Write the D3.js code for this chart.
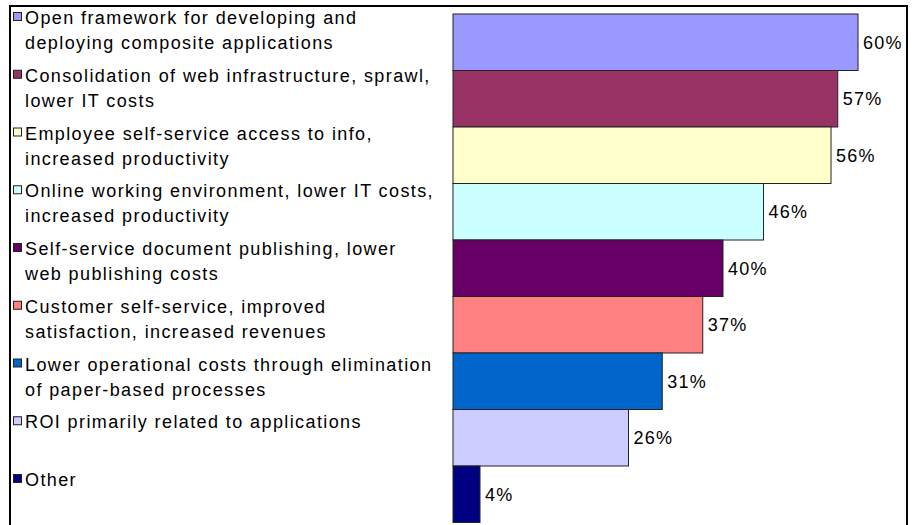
<!DOCTYPE html>
<html>
<head>
<meta charset="utf-8">
<script src="https://cdn.jsdelivr.net/npm/d3@7"></script>
<style>
  html, body { margin: 0; padding: 0; background: #fff; }
  svg { display: block; }
  text { font-family: "Liberation Sans", Arial, sans-serif; fill: #000; }
</style>
</head>
<body>
<svg id="chart" width="912" height="525"></svg>
<script>
// Benefits cited, share of respondents (%)
const categories = [
  ["Open framework for developing and", "deploying composite applications"],
  ["Consolidation of web infrastructure, sprawl,", "lower IT costs"],
  ["Employee self-service access to info,", "increased productivity"],
  ["Online working environment, lower IT costs,", "increased productivity"],
  ["Self-service document publishing, lower", "web publishing costs"],
  ["Customer self-service, improved", "satisfaction, increased revenues"],
  ["Lower operational costs through elimination", "of paper-based processes"],
  ["ROI primarily related to applications"],
  ["Other"]
];
const values = [60, 57, 56, 46, 40, 37, 31, 26, 4];
const colors = ["#9999FF", "#993366", "#FFFFCC", "#CCFFFF", "#660066",
                "#FF8080", "#0066CC", "#CCCCFF", "#000080"];

const svg = d3.select("#chart");
const idx = d3.range(values.length);

// Outer frame (bottom edge runs past the canvas)
svg.append("rect")
  .attr("x", 10).attr("y", 6)
  .attr("width", 897).attr("height", 540)
  .attr("fill", "none").attr("stroke", "#000").attr("stroke-width", 2);

const x = d3.scaleLinear().domain([0, 60]).range([453, 858]);
const y = d3.scaleBand().domain(idx).range([14, 522.5]).padding(0);

// Bars
svg.append("g").selectAll("rect")
  .data(idx)
  .join("rect")
  .attr("x", x(0))
  .attr("y", i => y(i))
  .attr("width", i => x(values[i]) - x(0))
  .attr("height", y.bandwidth())
  .attr("fill", i => colors[i])
  .attr("stroke", "#222")
  .attr("stroke-width", 1);

// Value labels
svg.append("g").selectAll("text")
  .data(idx)
  .join("text")
  .attr("x", i => x(values[i]) + 5)
  .attr("y", i => y(i) + y.bandwidth() / 2)
  .attr("dy", "0.35em")
  .style("font-size", "18px")
  .style("letter-spacing", "1.3px")
  .text(i => values[i] + "%");

// Legend
const legendY = d3.scaleLinear().domain([0, 8]).range([24, 486]);
const leg = svg.append("g").selectAll("g")
  .data(idx)
  .join("g")
  .attr("transform", i => `translate(0,${legendY(i)})`);

leg.append("rect")
  .attr("x", 13.5).attr("y", -11.5)
  .attr("width", 8).attr("height", 8)
  .attr("fill", i => colors[i])
  .attr("stroke", "#222").attr("stroke-width", 1);

leg.append("text")
  .attr("x", 25)
  .style("font-size", "18px")
  .style("letter-spacing", "1.4px")
  .selectAll("tspan")
  .data(i => categories[i])
  .join("tspan")
  .attr("x", 25)
  .attr("dy", (d, k) => k === 0 ? 0 : 25)
  .text(d => d);
</script>
</body>
</html>
